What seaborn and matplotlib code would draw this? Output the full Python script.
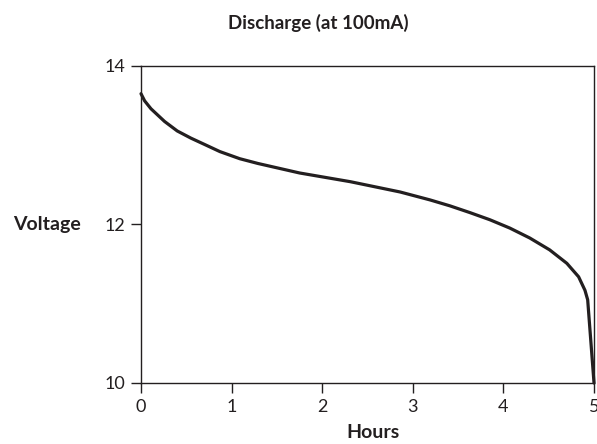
import matplotlib
matplotlib.use("Agg")
import matplotlib.pyplot as plt
import seaborn as sns
import pandas as pd

# Discharge curve
hours = [0.0, 0.04, 0.11, 0.26, 0.40, 0.55, 0.72, 0.87, 1.09, 1.29, 1.75,
         2.31, 2.86, 3.19, 3.41, 3.63, 3.85, 4.07, 4.29, 4.51, 4.70, 4.83,
         4.90, 4.93, 5.0]
voltage = [13.65, 13.56, 13.46, 13.30, 13.18, 13.09, 13.0, 12.92, 12.83,
           12.77, 12.65, 12.54, 12.41, 12.31, 12.235, 12.15, 12.06, 11.955,
           11.83, 11.68, 11.51, 11.34, 11.17, 11.05, 10.0]
x_ticks = [0, 1, 2, 3, 4, 5]
y_ticks = [10, 12, 14]

INK = "#231f20"

sns.set_style("ticks")
plt.rcParams['font.family'] = ['Lato', 'DejaVu Sans']

df = pd.DataFrame({"Hours": hours, "Voltage": voltage})

fig = plt.figure(figsize=(5.97, 4.44), dpi=100)
ax = fig.add_axes([0.2362, 0.1374, 0.7588, 0.714])

sns.lineplot(data=df, x="Hours", y="Voltage", ax=ax, color=INK, linewidth=2.3,
             clip_on=False)
ax.lines[0].set_solid_joinstyle("round")

ax.set_xlim(0, 5)
ax.set_ylim(10, 14)
ax.set_xticks(x_ticks)
ax.set_yticks(y_ticks)
ax.tick_params(direction="out", length=7.5, width=1, color=INK, labelcolor=INK,
               labelsize=13)
ax.tick_params(axis="x", pad=4)
ax.tick_params(axis="y", pad=4)
for s in ax.spines.values():
    s.set_visible(True)
    s.set_color(INK)
    s.set_linewidth(1.0)
ax.set_xlabel("")
ax.set_ylabel("")

fig.text(0.533, 0.948, "Discharge (at 100mA)", ha="center", va="center",
         fontsize=13.5, fontweight="bold", color=INK)
fig.text(0.079, 0.495, "Voltage", ha="center", va="center",
         fontsize=14, fontweight="bold", color=INK)
fig.text(0.624, 0.027, "Hours", ha="center", va="center",
         fontsize=14, fontweight="bold", color=INK)

fig.savefig("out.png", dpi=100)
